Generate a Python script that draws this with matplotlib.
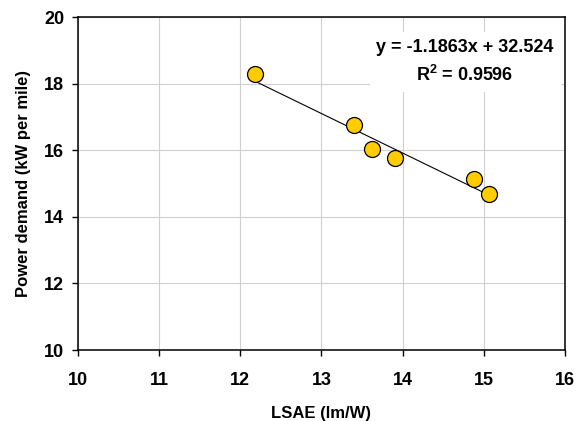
import matplotlib.pyplot as plt
import numpy as np

# LSAE vs power demand
lsae = [12.18, 13.40, 13.62, 13.91, 14.88, 15.07]
power = [18.29, 16.75, 16.03, 15.77, 15.14, 14.70]

# trendline as printed on the chart
slope = -1.1863
intercept = 32.524
r2 = 0.9596

xticks = [10, 11, 12, 13, 14, 15, 16]
yticks = [10, 12, 14, 16, 18, 20]

plt.rcParams["font.family"] = ["Liberation Sans", "DejaVu Sans"]
plt.rcParams["font.weight"] = "bold"
plt.rcParams["mathtext.fontset"] = "custom"
plt.rcParams["mathtext.bf"] = "Liberation Sans:bold"
plt.rcParams["mathtext.rm"] = "Liberation Sans:bold"

fig = plt.figure(figsize=(5.77, 4.21), dpi=100)
ax = fig.add_axes([0.135, 0.1686, 0.844, 0.791])

xs = np.array([min(lsae), max(lsae)])
ax.plot(xs, slope * xs + intercept, color="black", linewidth=0.8, zorder=3)
ax.plot(lsae, power, "o", markersize=11.5, markerfacecolor="#FFCC00",
        markeredgecolor="black", markeredgewidth=0.9, zorder=4)

ax.set_xlim(10, 16)
ax.set_ylim(10, 20)
ax.set_xticks(xticks)
ax.set_yticks(yticks)
ax.grid(True, color="#d0d0d0", linewidth=0.8, zorder=0)
ax.set_axisbelow(True)
ax.tick_params(labelsize=13, width=1, length=4, direction="out")
ax.tick_params(axis="x", pad=12)
ax.tick_params(axis="y", pad=6)
for lbl in ax.get_xticklabels() + ax.get_yticklabels():
    lbl.set_fontweight("bold")
for s in ax.spines.values():
    s.set_linewidth(1.1)

ax.set_xlabel("LSAE (lm/W)", fontsize=12, fontweight="bold", labelpad=12)
ax.set_ylabel("Power demand (kW per mile)", fontsize=12, fontweight="bold", labelpad=9)

ax.text(0.795, 0.865, f"y = {slope}x + {intercept}\nR$^{{\\mathbf{{2}}}}$ = {r2}",
        transform=ax.transAxes, ha="center", va="center", fontsize=13,
        fontweight="bold", linespacing=1.6, zorder=5,
        bbox=dict(facecolor="white", edgecolor="none", pad=5))

fig.savefig("out.png", dpi=100)
